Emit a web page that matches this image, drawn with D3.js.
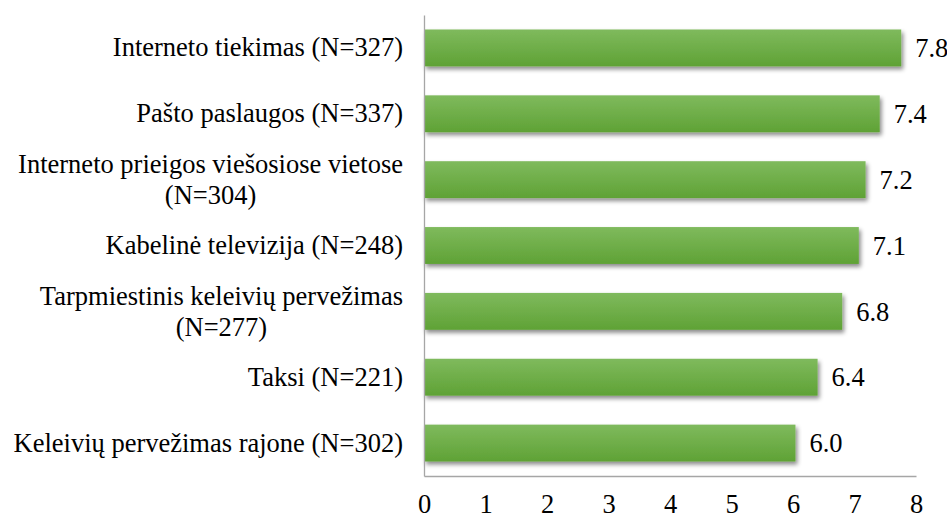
<!DOCTYPE html>
<html>
<head>
<meta charset="utf-8">
<script src="https://cdn.jsdelivr.net/npm/d3@7"></script>
<style>
  body { margin: 0; background: #fff; }
</style>
</head>
<body>
<div id="chart"></div>
<script>
// ---- data ----
var categories = [
  "Interneto tiekimas (N=327)",
  "Pašto paslaugos (N=337)",
  "Interneto prieigos viešosiose vietose\n(N=304)",
  "Kabelinė televizija (N=248)",
  "Tarpmiestinis keleivių pervežimas\n(N=277)",
  "Taksi (N=221)",
  "Keleivių pervežimas rajone (N=302)"
];
var scores = [7.76, 7.41, 7.18, 7.07, 6.80, 6.40, 6.04];
var xTicks = [0, 1, 2, 3, 4, 5, 6, 7, 8];

var svgWidth = 947;
var svgHeight = 518;
var fontSize = 26.5;
var fontFam = "Liberation Serif";

var svg = d3.select("#chart").append("svg")
  .attr("width", svgWidth)
  .attr("height", svgHeight);

// gradient + shadow for bars
var defs = svg.append("defs");
var grad = defs.append("linearGradient")
  .attr("id", "barGrad")
  .attr("x1", 0).attr("y1", 0).attr("x2", 0).attr("y2", 1);
grad.append("stop").attr("offset", "0%").attr("stop-color", "#7fba5d");
grad.append("stop").attr("offset", "100%").attr("stop-color", "#5fa235");

var shadow = defs.append("filter")
  .attr("id", "barShadow")
  .attr("x", "-5%").attr("y", "-20%")
  .attr("width", "110%").attr("height", "160%");
shadow.append("feDropShadow")
  .attr("dx", 2).attr("dy", 3)
  .attr("stdDeviation", 2)
  .attr("flood-color", "#000")
  .attr("flood-opacity", 0.45);

// scales
var x = d3.scaleLinear().domain([0, 8]).range([424, 916]);
var y = d3.scaleBand()
  .domain(categories)
  .range([15, 476])
  .paddingInner(0.44)
  .paddingOuter(0.22);

// bars
svg.append("g").selectAll("rect")
  .data(scores)
  .enter()
  .append("rect")
  .attr("x", x(0))
  .attr("y", (d, i) => y(categories[i]))
  .attr("width", d => x(d) - x(0))
  .attr("height", y.bandwidth())
  .attr("fill", "url(#barGrad)")
  .attr("filter", "url(#barShadow)");

// value labels
svg.append("g").selectAll("text")
  .data(scores)
  .enter()
  .append("text")
  .attr("x", d => x(d) + 14)
  .attr("y", (d, i) => y(categories[i]) + y.bandwidth() / 2)
  .attr("dy", "0.35em")
  .attr("font-family", fontFam)
  .attr("font-size", fontSize)
  .attr("fill", "#000")
  .text(d => d3.format(".1f")(d));

// x axis
var xAxis = svg.append("g")
  .attr("transform", `translate(0, ${476})`)
  .call(d3.axisBottom(x).tickValues(xTicks).tickSize(0).tickSizeOuter(0).tickPadding(18));
xAxis.attr("font-family", fontFam).attr("font-size", fontSize);
xAxis.select(".domain").attr("stroke", "#a6a6a6").attr("stroke-width", 1.3);

// y axis
var yAxis = svg.append("g")
  .attr("transform", `translate(${x(0)}, 0)`)
  .call(d3.axisLeft(y).tickSize(0).tickSizeOuter(0).tickPadding(21));
yAxis.attr("font-family", fontFam).attr("font-size", fontSize);
yAxis.select(".domain").attr("stroke", "#a6a6a6").attr("stroke-width", 1.3);

yAxis.selectAll(".tick text").each(function (d) {
  var t = d3.select(this);
  var lines = d.split("\n");
  if (lines.length == 1) return;
  t.text(null);
  // multi-line: block right aligned, lines centered within block
  var widths = lines.map(l => {
    var tmp = t.append("tspan").text(l);
    var w = tmp.node().getComputedTextLength();
    tmp.remove();
    return w;
  });
  var maxW = d3.max(widths);
  var cx = -21 - maxW / 2;
  var lineH = 31;
  t.attr("text-anchor", "middle").attr("dy", null);
  lines.forEach((l, i) => {
    t.append("tspan")
      .attr("x", cx)
      .attr("y", (i - (lines.length - 1) / 2) * lineH)
      .attr("dy", "0.35em")
      .text(l);
  });
});
</script>
</body>
</html>
